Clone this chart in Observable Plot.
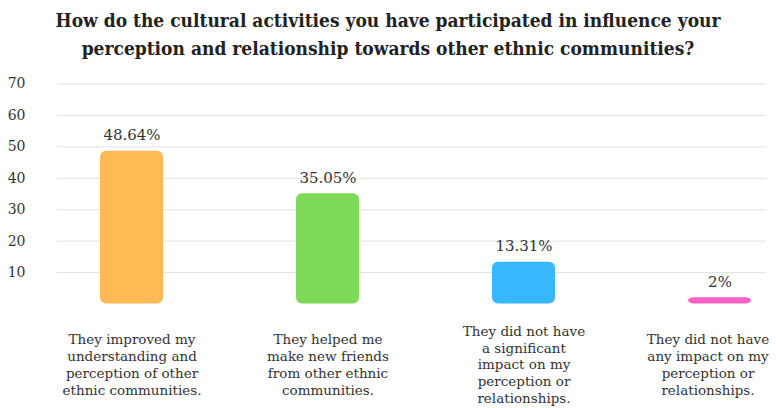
<!DOCTYPE html>
<html><head><meta charset="utf-8">
<script src="https://cdn.jsdelivr.net/npm/d3@7"></script>
<script src="https://cdn.jsdelivr.net/npm/@observablehq/plot@0.6"></script>
<style>
body{margin:0;background:#fff;width:776px;height:408px;overflow:hidden}
#title{font-family:"DejaVu Serif Condensed","DejaVu Serif",serif;font-weight:bold;font-stretch:condensed;font-size:19px;line-height:28px;text-align:center;color:#222;padding-top:6px;height:56px;}
</style></head><body>
<div id="title">How do the cultural activities you have participated in influence your<br>perception and relationship towards other ethnic communities?</div>
<div id="chart"></div>
<script>
const categories = [
  "They improved my\nunderstanding and\nperception of other\nethnic communities.",
  "They helped me\nmake new friends\nfrom other ethnic\ncommunities.",
  "They did not have\na significant\nimpact on my\nperception or\nrelationships.",
  "They did not have\nany impact on my\nperception or\nrelationships."
];
const values = [48.64, 35.05, 13.31, 2];
const valueLabels = ["48.64%", "35.05%", "13.31%", "2%"];
const colors = ["#FFBA55", "#7ED957", "#38B6FF", "#F762C4"];
const yTicks = [10, 20, 30, 40, 50, 60, 70];

const data = categories.map((c, i) => ({category: c, value: values[i], label: valueLabels[i], color: colors[i]}));

const catAxis = {tickSize: 0, tickPadding: 60, lineAnchor: "middle", fontSize: 13.5, fill: "#333", lineHeight: 1.25, label: null};

const chart = Plot.plot({
  width: 776, height: 346,
  marginTop: 21.5, marginBottom: 104.5, marginLeft: 57, marginRight: 10,
  style: {fontFamily: "DejaVu Serif", fontSize: "13px", color: "#333", background: "white", overflow: "visible"},
  x: {domain: categories, paddingInner: 0.679, paddingOuter: 0.145, align: 0.745, axis: null},
  y: {domain: [0, 70], axis: null},
  color: {type: "identity"},
  marks: [
    Plot.gridY(yTicks, {stroke: "#e0e0e0", strokeOpacity: 1}),
    Plot.axisY(yTicks, {tickSize: 0, tickPadding: 32, fontSize: 14, fill: "#333", label: null}),
    Plot.barY(data, {x: "category", y: "value", fill: "color", rx: 6}),
    Plot.text(data, {x: "category", y: "value", text: "label", dy: -16, fontSize: 15, fill: "#333"}),
    Plot.axisX(categories.slice(0, 3), catAxis),
    Plot.axisX(categories.slice(3), {...catAxis, dx: -12})
  ]
});
document.getElementById("chart").append(chart);
</script>
</body></html>
